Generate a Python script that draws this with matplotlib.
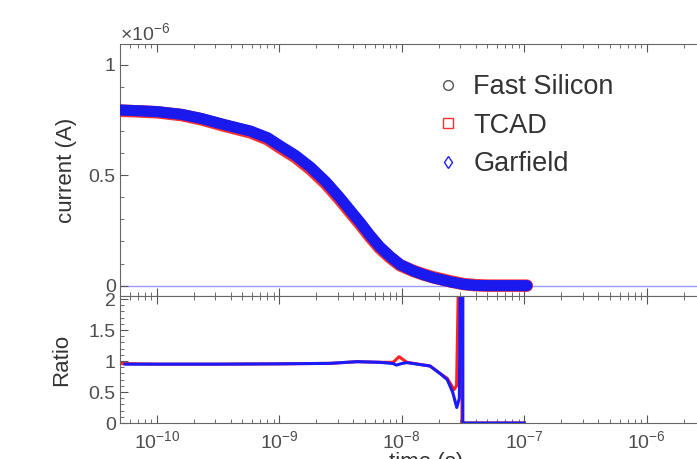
import numpy as np
import matplotlib.pyplot as plt
from matplotlib.lines import Line2D
from matplotlib.ticker import MultipleLocator, LogLocator, NullFormatter, FuncFormatter

plt.rcParams['font.family'] = ['Liberation Sans', 'DejaVu Sans']
plt.rcParams['mathtext.fontset'] = 'custom'
plt.rcParams['mathtext.rm'] = 'Liberation Sans'
plt.rcParams['mathtext.it'] = 'Liberation Sans:italic'

# current pulse, time in s, current in 1e-6 A
time = [5.0e-11, 6.3e-11, 1.0e-10, 1.6e-10, 2.3e-10, 3.5e-10, 5.8e-10, 8.0e-10,
        1.0e-9, 1.35e-9, 1.8e-9, 2.4e-9, 3.1e-9, 3.8e-9, 4.6e-9, 5.5e-9, 6.6e-9,
        8.0e-9, 9.7e-9, 1.25e-8, 1.5e-8, 1.8e-8, 2.5e-8, 3.2e-8, 4.0e-8, 5.0e-8,
        6.3e-8, 8.0e-8, 1.05e-7]
fast_silicon = [0.794, 0.792, 0.787, 0.774, 0.756, 0.728, 0.698, 0.667, 0.632, 0.587,
                0.532, 0.466, 0.396, 0.336, 0.281, 0.225, 0.174, 0.131, 0.094, 0.066,
                0.05, 0.037, 0.018, 0.006, 0.001, 0.0, 0.0, 0.0, 0.0]
tcad = [0.792, 0.790, 0.785, 0.772, 0.753, 0.725, 0.694, 0.663, 0.627, 0.582, 0.527,
        0.461, 0.391, 0.331, 0.276, 0.221, 0.170, 0.128, 0.092, 0.066, 0.051, 0.038,
        0.019, 0.007, 0.002, 0.0, 0.0, 0.0, 0.0]
garfield = [0.795, 0.793, 0.788, 0.775, 0.757, 0.73, 0.70, 0.67, 0.635, 0.59, 0.536,
            0.47, 0.40, 0.34, 0.284, 0.228, 0.176, 0.133, 0.095, 0.066, 0.05, 0.036,
            0.017, 0.006, 0.001, 0.0, 0.0, 0.0, 0.0]

# ratios to Fast Silicon
ratio_t_tcad = [5e-11, 1e-10, 3e-10, 1e-9, 2.6e-9, 4.3e-9, 6.6e-9, 8.5e-9, 9.5e-9,
                1.1e-8, 1.7e-8, 2.05e-8, 2.35e-8, 2.67e-8, 2.8e-8, 2.9e-8, 3.1e-8,
                3.1e-8, 1.0e-7]
ratio_tcad = [0.96, 0.95, 0.95, 0.955, 0.963, 0.99, 0.98, 0.98, 1.07, 0.98, 0.92,
              0.80, 0.72, 0.54, 0.60, 2.3, 2.3, 0.0, 0.0]
ratio_t_garf = [5.5e-11, 1e-10, 3e-10, 1e-9, 2.6e-9, 4.3e-9, 6.6e-9, 8.5e-9, 9.0e-9,
                1.0e-8, 1.1e-8, 1.7e-8, 2.05e-8, 2.35e-8, 2.6e-8, 2.81e-8, 2.95e-8,
                3.0e-8, 3.15e-8, 3.15e-8, 1.0e-7]
ratio_garf = [0.95, 0.95, 0.95, 0.955, 0.963, 0.99, 0.98, 0.96, 0.935, 0.96, 0.975,
              0.92, 0.80, 0.70, 0.50, 0.25, 0.40, 2.3, 2.3, 0.0, 0.0]

gray = '#4d4d4d'
fig = plt.figure(figsize=(6.97, 4.59), dpi=100)
ax1 = fig.add_axes([0.1722, 0.3551, 0.8785, 0.549])
ax2 = fig.add_axes([0.1722, 0.0784, 0.8785, 0.2767], sharex=ax1)

ax1.axhline(0, color='#9a9aff', lw=1.0, zorder=1)
ax1.plot(time, fast_silicon, color='#777777', lw=8, solid_capstyle='round', zorder=2)
ax1.plot(time, tcad, color='#ff3030', lw=9, solid_capstyle='round', zorder=3)
ax1.plot(time, garfield, color='#1a1aee', lw=8, solid_capstyle='round', zorder=4)

ax2.plot(ratio_t_tcad, ratio_tcad, color='#ff2020', lw=2.2)
ax2.plot(ratio_t_garf, ratio_garf, color='#1a1aff', lw=2.2)

ax1.set_xscale('log')
ax1.set_xlim(5e-11, 5e-6)
ax1.set_ylim(-0.047, 1.094)
ax2.set_ylim(0, 2.05)

fmt = FuncFormatter(lambda v, p: '%g' % v)
ax1.yaxis.set_major_locator(MultipleLocator(0.5))
ax1.yaxis.set_minor_locator(MultipleLocator(0.1))
ax1.yaxis.set_major_formatter(fmt)
ax2.yaxis.set_major_locator(MultipleLocator(0.5))
ax2.yaxis.set_minor_locator(MultipleLocator(0.1))
ax2.yaxis.set_major_formatter(fmt)
ax2.xaxis.set_minor_locator(LogLocator(base=10, subs=np.arange(2, 10)))
ax2.xaxis.set_minor_formatter(NullFormatter())

for ax in (ax1, ax2):
    for s in ax.spines.values():
        s.set_color('#666666')
    ax.tick_params(which='both', direction='in', top=True, right=False,
                   colors='#555555', labelcolor=gray, labelsize=14, pad=3)
    ax.tick_params(which='major', length=6)
    ax.tick_params(which='minor', length=3)
ax1.tick_params(labelbottom=False)
ax2.tick_params(axis='x', pad=5)

ax1.text(0.0, 1.0, r'$\times10^{-6}$', transform=ax1.transAxes, ha='left', va='bottom',
         fontsize=14, color=gray)
ax1.set_ylabel('current (A)', fontsize=16, color='#333333')
ax1.yaxis.set_label_coords(-0.070, 0.5)
ax2.set_ylabel('Ratio', fontsize=16, color='#333333')
ax2.yaxis.set_label_coords(-0.078, 0.5)
ax2.set_xlabel('time (s)', fontsize=16, color='#333333', va='top')
ax2.xaxis.set_label_coords(0.5, -0.228)

handles = [Line2D([], [], ls='none', marker='o', mfc='none', mec='#555555', ms=7),
           Line2D([], [], ls='none', marker='s', mfc='none', mec='#ff3030', ms=7),
           Line2D([], [], ls='none', marker='d', mfc='none', mec='#2020ff', ms=6)]
leg = ax1.legend(handles, ['Fast Silicon', 'TCAD', 'Garfield'], loc='upper left',
                 bbox_to_anchor=(434 / 697, 1 - 74 / 459), bbox_transform=fig.transFigure,
                 frameon=False, fontsize=19.5, handlelength=1.0, handletextpad=0.45,
                 labelspacing=0.47, borderpad=0, borderaxespad=0)
for t in leg.get_texts():
    t.set_color('#333333')

fig.savefig('out.png', dpi=100)
